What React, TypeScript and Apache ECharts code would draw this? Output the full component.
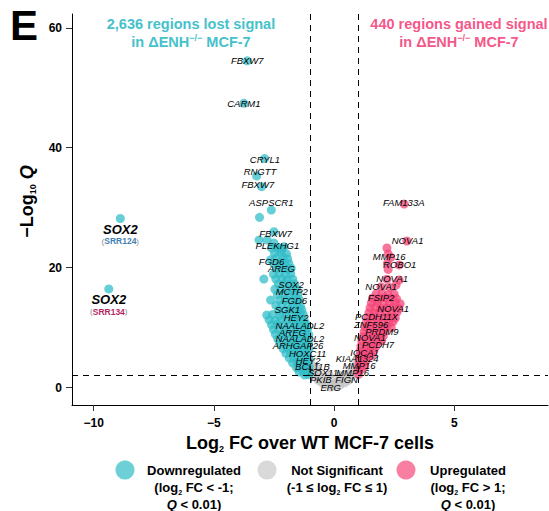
import { useEffect, useRef } from "react";
import * as echarts from "echarts";

const FONT = "'Liberation Sans', Arial, Helvetica, sans-serif";

// Each point: [log2 fold change, -log10 Q]
const downPoints: [number, number][] = [
  [-3.61, 54.5], [-3.75, 47.4], [-2.89, 38.2], [-3.22, 35.3], [-3.01, 33.5], [-2.61, 29.6], [-3.1, 28.4],
  [-2.5, 26.0], [-3.12, 24.6], [-2.78, 24.6], [-2.5, 24.1], [-2.08, 23.5], [-2.29, 22.95], [-2.64, 21.3], [-2.22, 21.0], [-1.88, 20.7],
  [-2.6, 23.3], [-2.35, 23.4], [-2.15, 23.2],
  [-2.48, 22.4], [-2.2, 22.5], [-1.98, 22.3],
  [-2.42, 21.6], [-2.12, 21.7], [-1.93, 21.5],
  [-2.5, 20.6], [-2.27, 20.5], [-2.04, 20.7],
  [-2.38, 19.8], [-2.12, 19.9], [-1.9, 19.7], [-1.78, 19.9],
  [-2.52, 18.9], [-2.28, 19.0], [-2.03, 18.8], [-1.8, 19.0],
  [-2.92, 18.1], [-2.42, 18.1], [-2.17, 18.2], [-1.94, 18.0], [-1.72, 18.1],
  [-2.32, 17.3], [-2.06, 17.4], [-1.84, 17.2], [-1.64, 17.3],
  [-2.46, 16.4], [-2.21, 16.5], [-1.96, 16.3], [-1.74, 16.4], [-1.56, 16.5],
  [-2.36, 15.5], [-2.11, 15.6], [-1.87, 15.4], [-1.66, 15.5], [-1.5, 15.6],
  [-2.64, 14.6], [-2.26, 14.6], [-2.02, 14.7], [-1.8, 14.5], [-1.6, 14.6], [-1.45, 14.7],
  [-2.42, 13.7], [-2.16, 13.8], [-1.92, 13.6], [-1.7, 13.7], [-1.52, 13.8], [-1.4, 13.6],
  [-2.31, 12.9], [-2.06, 12.8], [-1.82, 13.0], [-1.62, 12.9], [-1.46, 12.8], [-1.34, 13.0],
  [-2.8, 12.1], [-2.56, 12.2], [-2.26, 12.0], [-2.0, 12.1], [-1.76, 12.2], [-1.56, 12.0], [-1.4, 12.1], [-1.28, 12.2],
  [-2.7, 11.3], [-2.45, 11.2], [-2.2, 11.4], [-1.95, 11.3], [-1.72, 11.2], [-1.52, 11.4], [-1.36, 11.3], [-1.24, 11.2],
  [-2.6, 10.5], [-2.36, 10.6], [-2.12, 10.4], [-1.87, 10.5], [-1.63, 10.6], [-1.42, 10.4], [-1.26, 10.5], [-1.16, 10.6],
  [-2.52, 9.7], [-2.3, 9.8], [-2.06, 9.6], [-1.82, 9.7], [-1.58, 9.8], [-1.37, 9.6], [-1.2, 9.7], [-1.1, 9.8],
  [-2.44, 8.9], [-2.2, 8.8], [-1.96, 9.0], [-1.72, 8.9], [-1.5, 8.8], [-1.31, 9.0], [-1.14, 8.9], [-1.05, 8.8],
  [-2.34, 8.1], [-2.11, 8.2], [-1.89, 8.0], [-1.66, 8.1], [-1.45, 8.2], [-1.26, 8.0], [-1.1, 8.1],
  [-2.24, 7.3], [-2.02, 7.2], [-1.8, 7.4], [-1.6, 7.3], [-1.4, 7.2], [-1.22, 7.4], [-1.06, 7.3],
  [-2.12, 6.5], [-1.92, 6.6], [-1.72, 6.4], [-1.52, 6.5], [-1.33, 6.6], [-1.16, 6.4], [-1.04, 6.5],
  [-2.0, 5.7], [-1.8, 5.8], [-1.61, 5.6], [-1.44, 5.7], [-1.27, 5.8], [-1.1, 5.6],
  [-1.86, 4.9], [-1.67, 5.0], [-1.5, 4.8], [-1.33, 4.9], [-1.18, 5.0], [-1.05, 4.8],
  [-1.72, 4.1], [-1.53, 4.2], [-1.37, 4.0], [-1.22, 4.1], [-1.07, 4.2],
  [-1.56, 3.3], [-1.41, 3.4], [-1.27, 3.2], [-1.13, 3.3], [-1.03, 3.4],
  [-1.45, 2.6], [-1.3, 2.7], [-1.16, 2.5], [-1.04, 2.6],
  [-1.22, 2.1], [-1.06, 2.15],
];

const upPoints: [number, number][] = [
  [2.92, 30.6], [3.03, 24.45], [2.2, 23.3], [2.25, 22.3], [2.36, 21.7], [2.22, 20.7], [2.71, 20.45],
  [2.25, 19.7], [2.71, 17.95], [2.2, 18.07], [1.95, 16.8], [2.33, 16.7], [2.58, 17.1],
  [1.75, 15.6], [2.0, 15.7], [2.25, 15.5], [2.5, 15.6],
  [1.6, 14.9], [1.85, 14.8], [2.1, 15.0], [2.35, 14.9], [2.6, 14.8],
  [1.55, 14.1], [1.8, 14.2], [2.05, 14.0], [2.3, 14.1], [2.55, 14.2], [2.75, 14.0],
  [1.5, 13.3], [1.72, 13.4], [1.95, 13.2], [2.2, 13.3], [2.45, 13.4], [2.7, 13.2],
  [1.45, 12.5], [1.68, 12.4], [1.9, 12.6], [2.15, 12.5], [2.4, 12.4], [2.62, 12.6],
  [1.4, 11.7], [1.62, 11.8], [1.85, 11.6], [2.1, 11.7], [2.35, 11.8], [2.55, 11.6],
  [1.35, 10.9], [1.58, 10.8], [1.8, 11.0], [2.05, 10.9], [2.28, 10.8], [2.45, 11.0],
  [1.3, 10.1], [1.52, 10.2], [1.75, 10.0], [2.0, 10.1], [2.2, 10.2], [2.38, 10.0],
  [1.25, 9.3], [1.47, 9.4], [1.7, 9.2], [1.92, 9.3], [2.12, 9.4],
  [1.2, 8.5], [1.42, 8.6], [1.65, 8.4], [1.85, 8.5], [2.05, 8.6],
  [1.16, 7.7], [1.38, 7.8], [1.6, 7.6], [1.8, 7.7], [1.98, 7.8],
  [1.12, 6.9], [1.33, 7.0], [1.55, 6.8], [1.75, 6.9],
  [1.09, 6.1], [1.28, 6.2], [1.48, 6.0], [1.66, 6.1],
  [1.06, 5.3], [1.22, 5.4], [1.4, 5.2], [1.55, 5.3],
  [1.04, 4.5], [1.18, 4.6], [1.32, 4.4],
  [1.03, 3.7], [1.15, 3.8], [1.28, 3.6],
  [1.02, 2.9], [1.12, 3.0],
  [1.02, 2.2],
];

const nsPoints: [number, number][] = [
  [-0.15, 0.1], [0.05, 0.2], [-0.35, 0.4], [0.25, 0.4], [-0.5, 0.8], [0.45, 0.8],
  [-0.65, 1.2], [0.6, 1.2], [-0.75, 1.7], [0.7, 1.7], [-0.85, 2.3], [0.8, 2.2],
  [-0.9, 3.0], [0.88, 2.9], [-0.95, 3.7], [0.92, 3.6], [-0.97, 4.4], [0.95, 4.3],
  [-0.3, 1.0], [0.1, 0.9], [-0.1, 1.5], [0.35, 1.4], [-0.5, 1.8], [-0.65, 2.6],
  [0.55, 2.2], [0.0, 0.6], [-0.75, 3.2], [0.7, 3.0], [-0.2, 2.1], [0.25, 2.0],
];

// Labelled genes: [log2 FC, -log10 Q, gene]
const geneLabels: [number, number, string][] = [
  [-3.61, 54.5, "FBXW7"], [-3.75, 47.4, "CARM1"], [-2.875, 38.07, "CRYL1"], [-3.08, 36.0, "RNGTT"],
  [-3.17, 33.95, "FBXW7"], [-2.61, 30.8, "ASPSCR1"], [-2.43, 25.67, "FBXW7"], [-2.36, 23.67, "PLEKHG1"],
  [-2.6, 21.0, "FGD6"], [-2.19, 19.8, "AREG"], [-1.79, 17.23, "SOX2"], [-1.76, 16.0, "MCTP2"],
  [-1.65, 14.5, "FGD6"], [-1.94, 13.07, "SGK1"], [-1.58, 11.73, "HEY2"], [-1.42, 10.33, "NAALADL2"],
  [-1.73, 9.17, "AREG"], [-1.42, 8.12, "NAALADL2"], [-1.5, 6.95, "ARHGAP26"], [-1.1, 5.67, "HOXC11"],
  [-1.08, 4.57, "HEY2"], [-0.9, 3.5, "BCL11B"], [-0.46, 2.5, "SOX11"], [-0.55, 1.28, "PKIB"],
  [0.52, 1.28, "FIGN"], [-0.14, 0.0, "ERG"],
  [2.9, 30.83, "FAM133A"], [3.06, 24.5, "NOVA1"], [2.29, 21.83, "MMP16"], [2.73, 20.57, "ROBO1"],
  [2.42, 18.12, "NOVA1"], [1.96, 16.83, "NOVA1"], [1.96, 14.95, "FSIP2"], [2.46, 13.12, "NOVA1"],
  [1.77, 11.83, "PCDH11X"], [1.54, 10.45, "ZNF596"], [1.99, 9.33, "PRDM9"], [1.49, 8.33, "NOVA1"],
  [1.83, 7.23, "PCDH7"], [1.27, 5.9, "IQCA1"], [0.96, 4.78, "KIAA1324"], [1.04, 3.67, "MMP16"],
  [0.77, 2.5, "MMP16"],
];

// SOX2 enhancer regions: [log2 FC, -log10 Q, region]
const sox2Points: [number, number, string][] = [
  [-8.89, 28.2, "SRR124"],
  [-9.37, 16.45, "SRR134"],
];

const xTicks = [-10, -5, 0, 5];
const yTicks = [0, 20, 40, 60];
const fcCut = 1;
const qCut = 2; // -log10(0.01)

const TEAL = "#33BEC8";
const PINK = "#F4477A";
const GRAY = "#C4C4C4";
const TEAL_TEXT = "#45C2CB";
const PINK_TEXT = "#F4588A";

export default function App() {
  const ref = useRef<HTMLDivElement>(null);

  useEffect(() => {
    if (!ref.current) return;
    const chart = echarts.init(ref.current, null, { renderer: "svg" });

    const minus = (v: number) => (v < 0 ? "\u2212" + Math.abs(v) : String(v));
    const bold = { fontFamily: FONT, fontWeight: "bold" as const, color: "#000" };

    const pointStyle = (color: string) => ({ color, opacity: 0.75 });

    const titleRich = (fill: string) => ({
      t: { fontFamily: FONT, fontWeight: "bold", fontSize: 14.5, lineHeight: 17.5, fill },
      u: { fontFamily: FONT, fontWeight: "bold", fontSize: 9, lineHeight: 17.5, fill, verticalAlign: "top" },
    });

    const legendRich = {
      b: { fontFamily: FONT, fontWeight: "bold", fontSize: 13, lineHeight: 17, fill: "#000" },
      i: { fontFamily: FONT, fontWeight: "bold", fontStyle: "italic", fontSize: 13, lineHeight: 17, fill: "#000" },
      s: { fontFamily: FONT, fontWeight: "bold", fontSize: 7, lineHeight: 17, fill: "#000", verticalAlign: "bottom" },
    };

    chart.setOption({
      animation: false,
      textStyle: { fontFamily: FONT },
      grid: { left: 72, top: 14, width: 476, height: 391 },
      xAxis: {
        type: "value",
        min: -10.9,
        max: 8.9,
        splitLine: { show: false },
        axisLine: { onZero: false, lineStyle: { color: "#000", width: 1 } },
        axisTick: { customValues: xTicks, length: 6, lineStyle: { color: "#333" } },
        axisLabel: {
          customValues: xTicks,
          formatter: minus,
          margin: 12,
          fontSize: 12,
          ...bold,
        },
        name: "{a|Log}{s|2}{a| FC over WT MCF-7 cells}",
        nameLocation: "middle",
        nameGap: 26,
        nameTextStyle: {
          rich: {
            a: { ...bold, fontSize: 18, lineHeight: 22 },
            s: { ...bold, fontSize: 9, lineHeight: 22, verticalAlign: "bottom" },
          },
        },
      },
      yAxis: {
        type: "value",
        min: -2.9,
        max: 62.3,
        splitLine: { show: false },
        axisLine: { onZero: false, lineStyle: { color: "#000", width: 1 } },
        axisTick: { customValues: yTicks, length: 6, lineStyle: { color: "#333" } },
        axisLabel: {
          customValues: yTicks,
          margin: 10,
          fontSize: 12,
          ...bold,
        },
        name: "{a|\u2212Log}{s|10}{q| Q}",
        nameLocation: "middle",
        nameRotate: 90,
        nameGap: 25,
        nameTextStyle: {
          padding: [0, 0, 0, 16],
          rich: {
            a: { ...bold, fontSize: 18, lineHeight: 22 },
            s: { ...bold, fontSize: 9, lineHeight: 22, verticalAlign: "bottom" },
            q: { ...bold, fontSize: 18, lineHeight: 22, fontStyle: "italic" },
          },
        },
      },
      series: [
        {
          name: "Not Significant",
          type: "scatter",
          data: nsPoints,
          symbolSize: 9,
          itemStyle: pointStyle(GRAY),
          markLine: {
            silent: true,
            symbol: "none",
            label: { show: false },
            lineStyle: { color: "#000", width: 1, type: [6, 5] },
            data: [{ xAxis: -fcCut }, { xAxis: fcCut }, { yAxis: qCut }],
          },
        },
        {
          name: "Downregulated",
          type: "scatter",
          data: downPoints,
          symbolSize: 9,
          itemStyle: pointStyle(TEAL),
        },
        {
          name: "Upregulated",
          type: "scatter",
          data: upPoints,
          symbolSize: 9,
          itemStyle: pointStyle(PINK),
        },
        {
          name: "Downregulated",
          type: "scatter",
          data: sox2Points,
          symbolSize: 9,
          itemStyle: pointStyle(TEAL),
          label: {
            show: true,
            opacity: 1,
            position: "bottom",
            distance: 0,
            formatter: (p: any) =>
              `{g|SOX2}\n{p|(}{${p.data[2] === "SRR124" ? "b" : "r"}|${p.data[2]}}{p|)}`,
            rich: {
              g: { ...bold, fontSize: 13, fontStyle: "italic", lineHeight: 13, color: "#000" },
              b: { fontFamily: FONT, fontWeight: "bold", fontSize: 8.5, lineHeight: 11, color: "#3F80B5" },
              r: { fontFamily: FONT, fontWeight: "bold", fontSize: 8.5, lineHeight: 11, color: "#B51F62" },
              p: { fontFamily: FONT, fontSize: 8, lineHeight: 11, color: "#888" },
            },
          },
        },
        {
          name: "genes",
          type: "scatter",
          data: geneLabels,
          symbolSize: 1,
          itemStyle: { color: "rgba(0,0,0,0)" },
          z: 5,
          label: {
            show: true,
            opacity: 1,
            position: "inside",
            formatter: (p: any) => p.data[2],
            fontFamily: FONT,
            fontSize: 9.5,
            fontStyle: "italic",
            color: "#000",
            textBorderWidth: 0,
          },
        },
      ],
      graphic: [
        {
          type: "text",
          style: { text: "E", x: 10, y: 25, fontFamily: FONT, fontSize: 42, fontWeight: "bold", fill: "#000", verticalAlign: "middle", align: "left" },
        },
        {
          type: "text",
          style: {
            text: "{t|2,636 regions lost signal}\n{t|in \u0394ENH}{u|\u2212/\u2212}{t| MCF-7}",
            x: 191,
            y: 15.5,
            align: "center",
            verticalAlign: "top",
            fill: TEAL_TEXT,
            rich: titleRich(TEAL_TEXT),
          },
        },
        {
          type: "text",
          style: {
            text: "{t|440 regions gained signal}\n{t|in \u0394ENH}{u|\u2212/\u2212}{t| MCF-7}",
            x: 459,
            y: 15.5,
            align: "center",
            verticalAlign: "top",
            fill: PINK_TEXT,
            rich: titleRich(PINK_TEXT),
          },
        },
        // legend keys
        { type: "circle", shape: { cx: 125, cy: 470, r: 9.5 }, style: { fill: "#6ED0D7" } },
        { type: "circle", shape: { cx: 267, cy: 470, r: 9.5 }, style: { fill: "#D9D9D9" } },
        { type: "circle", shape: { cx: 406, cy: 470, r: 9.5 }, style: { fill: "#F87FA2" } },
        ...[
          { x: 194, text: "{b|Downregulated}\n{b|(log}{s|2}{b| FC < -1;}\n{i|Q}{b| < 0.01)}" },
          { x: 337, text: "{b|Not Significant}\n{b|(-1 \u2264 log}{s|2}{b| FC \u2264 1)}" },
          { x: 468, text: "{b|Upregulated}\n{b|(log}{s|2}{b| FC > 1;}\n{i|Q}{b| < 0.01)}" },
        ].map((l) => ({
          type: "text",
          style: {
            text: l.text,
            x: l.x,
            y: 461.5,
            align: "center",
            verticalAlign: "top",
            fill: "#000",
            rich: legendRich,
          },
        })),
      ],
    });

    return () => chart.dispose();
  }, []);

  return <div ref={ref} style={{ position: "absolute", left: 0, top: 0, width: 549, height: 511 }} />;
}
